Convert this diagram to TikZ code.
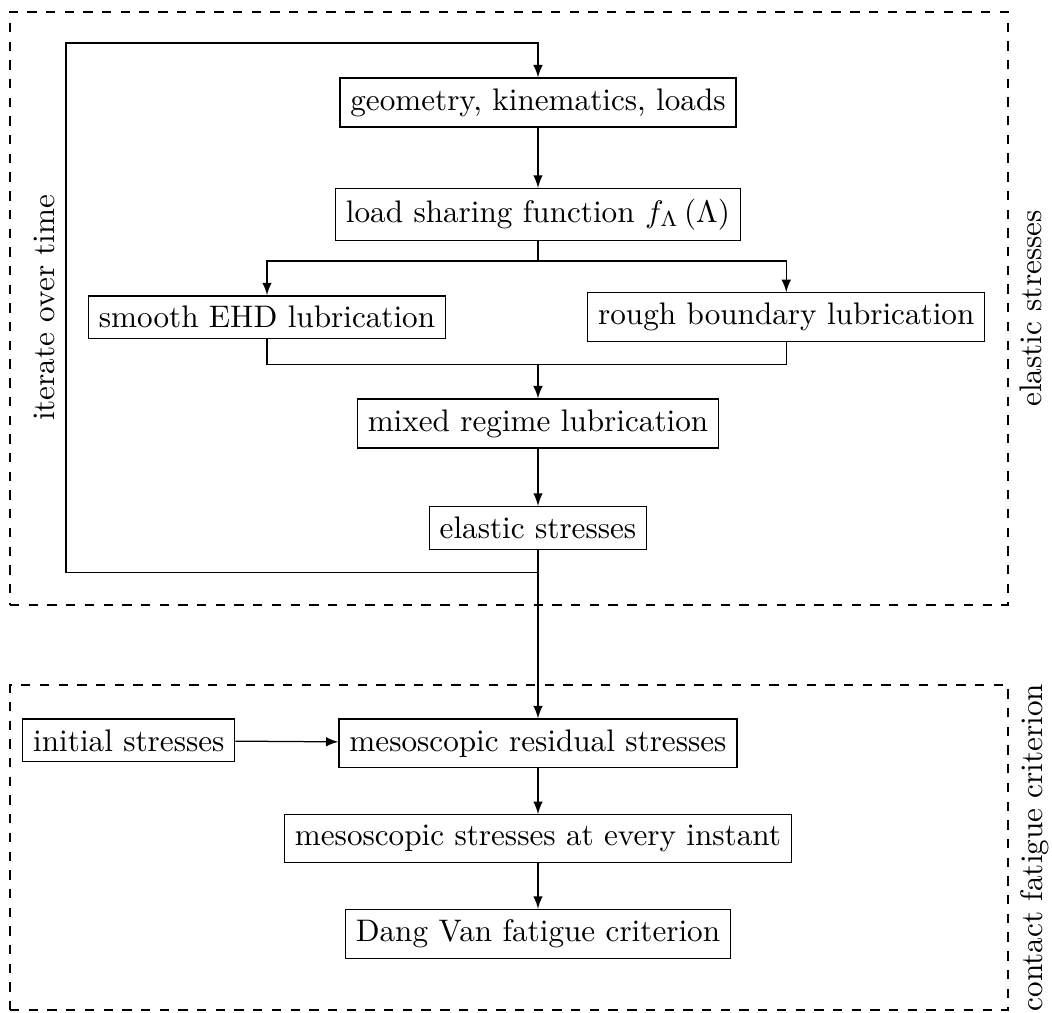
\documentclass[tikz,border=0pt]{standalone}
\usepackage{tikz}
\usetikzlibrary{positioning,arrows}

\begin{document}
\begin{tikzpicture}[
	>=latex,
	block/.style={
		rectangle,
		draw,
		align=center
	},
	frame/.style={
		rectangle,
		draw,
		thick,
		dashed,
		inner sep=0pt,
		minimum width=320.15pt
	},
	side/.style={
		rotate=90
	}
	]
	\useasboundingbox (-172.6pt,32.88pt) rectangle (164.9pt,-292.1pt);
	
	% upper part: lubrication and elastic stresses
	\node[block] (geo) {geometry, kinematics, loads};
	\node[block] (share) [below=19.34pt of geo] {load sharing function $f_\Lambda\left(\Lambda\right)$};
	\node[block] (smooth) [below=17.4pt of share, xshift=-86.94pt] {smooth EHD lubrication};
	\node[block] (rough) [right=45.24pt of smooth] {rough boundary lubrication};
	\node[block] (mixed) [below=50.5pt of share] {mixed regime lubrication};
	\node[block] (elastic) [below=18.4pt of mixed] {elastic stresses};
	
	% lower part: fatigue
	\node[block] (residual) [below=54.07pt of elastic] {mesoscopic residual stresses};
	\node[block] (initial) [left=33.04pt of residual.north west, anchor=north east] {initial stresses};
	\node[block] (instant) [below=14.75pt of residual] {mesoscopic stresses at every instant};
	\node[block] (dang) [below=14.7pt of instant] {Dang Van fatigue criterion};
	
	\draw[->] (geo) -- (share);
	\draw[->] (share.south) -- ++(0,-6.4pt) -| (smooth.north);
	\draw[->] (share.south) -- ++(0,-6.4pt) -| (rough.north);
	\draw[->] (smooth.south) -- ++(0,-8pt) coordinate (merge) -| (mixed.north);
	\draw (rough.south) |- (merge);
	\draw[->] (mixed) -- (elastic);
	
	% time loop
	\coordinate (loop) at (-151.4pt,19.09pt);
	\draw[->] (elastic.south) -- ++(0,-7.3pt) -| (loop)
		node[pos=0.75, side, anchor=south] (iter) {iterate over time}
		-| (geo.north);
	
	\draw[->] (elastic) -- (residual);
	\draw[->] (initial) -- (residual);
	\draw[->] (residual) -- (instant);
	\draw[->] (instant) -- (dang);
	
	% dashed frames
	\node[frame, minimum height=190.23pt] (upper) at (-9.31pt,-66.09pt) {};
	\node[side, anchor=north] (upperlabel) at (upper.east) {elastic stresses};
	\node[frame, minimum height=104.26pt] (lower) at (-9.31pt,-238.98pt) {};
	\node[side, anchor=north] (lowerlabel) at (lower.east) {contact fatigue criterion};
\end{tikzpicture}
\end{document}
